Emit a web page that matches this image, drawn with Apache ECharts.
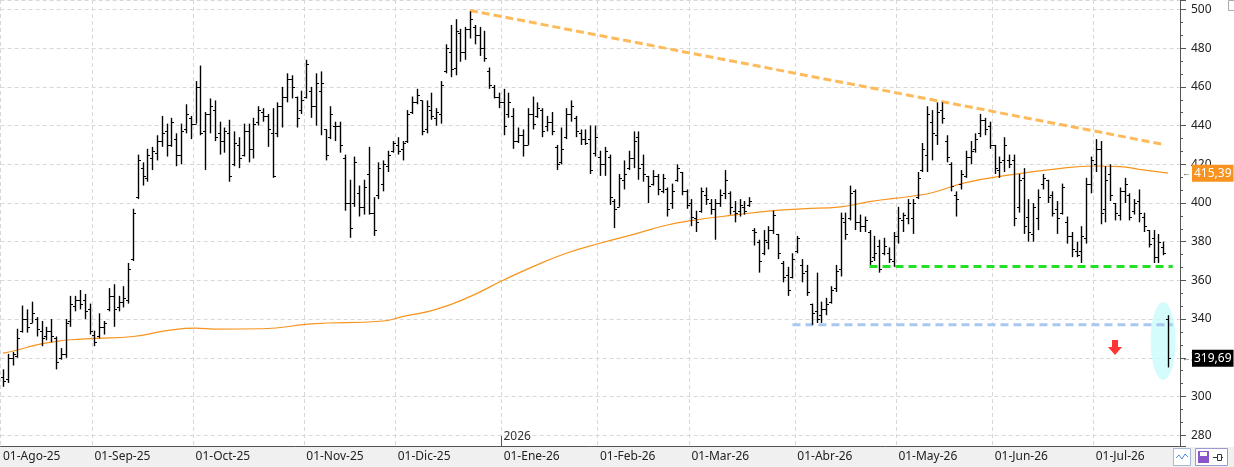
<!DOCTYPE html>
<html>
<head>
<meta charset="utf-8">
<script src="https://cdn.jsdelivr.net/npm/echarts@6/dist/echarts.min.js"></script>
<style>
html, body { margin: 0; padding: 0; background: #fff; }
#main { width: 1234px; height: 467px; }
</style>
</head>
<body>
<div id="main"></div>
<script>
// meses (etiquetas del eje X)
var monthNames = ['Ago-25', 'Sep-25', 'Oct-25', 'Nov-25', 'Dic-25', 'Ene-26',
                  'Feb-26', 'Mar-26', 'Abr-26', 'May-26', 'Jun-26', 'Jul-26'];

// barras diarias [apertura, cierre, minimo, maximo]
var aug25 = [
    [310,308,305,314],[309,320,307,322],[320,322,316,323],[321,330,320,335],[334,340,333,347],
    [340,336,333,345],[338,343,338,349],[340,335,331,341],[334,330,326,339],[331,334,329,336],
    [334,331,328,340],[330,318,314,331],[320,322,319,325],[322,338,320,340],[339,348,336,352],
    [347,350,344,352],[350,348,345,355],[350,344,340,353],[345,334,332,348]
];
var sep25 = [
    [332,328,326,334],[331,336,330,343],[336,338,332,339],[345,352,344,356],[352,345,336,358],
    [346,349,344,352],[349,351,346,357],[350,366,348,369],[371,395,370,397],[403,422,402,425],
    [418,414,409,421],[413,425,411,428],[423,427,417,429],[426,432,422,435],[432,436,429,445],
    [437,430,424,441],[430,442,429,444],[433,425,419,436],[425,437,420,441],[438,446,436,451],
    [444,441,433,445]
];
var oct25 = [
    [441,460,441,463],[460,436,435,471],[437,446,417,447],[446,450,436,454],[448,434,432,453],
    [436,432,425,442],[432,437,426,439],[436,414,411,443],[420,431,419,437],[430,423,418,434],
    [425,437,424,441],[437,428,421,441],[428,441,423,444],[442,448,440,450],[447,445,442,449],
    [445,438,429,446],[436,414,413,449],[436,450,434,452],[450,455,439,460],[455,464,452,467],
    [464,460,454,466],[455,444,439,455],[448,453,446,458]
];
var nov25 = [
    [455,472,454,474],[458,450,444,460],[450,462,440,467],[458,462,435,468],[438,425,422,438],
    [434,446,433,450],[440,440,432,442],[440,430,426,442],[423,400,396,425],[400,387,382,412],
    [400,421,398,424],[405,398,393,409],[398,408,394,412],[415,395,394,429],[395,386,383,403],
    [404,418,402,421],[410,420,406,422],[419,425,416,427],[427,431,426,432]
];
var dec25 = [
    [430,427,425,434],[428,431,422,432],[432,446,431,448],[447,452,446,455],[452,456,451,459],
    [453,437,435,453],[438,450,436,453],[448,445,443,457],[444,447,440,449],[446,461,441,463],
    [468,480,467,482],[478,469,465,492],[470,489,466,495],[488,478,473,490],[478,490,474,491],
    [490,495,485,499],[491,487,482,492],[487,480,476,491],[480,475,473,489],[468,461,459,470],
    [460,455,454,461],[455,452,449,457]
];
var jan26 = [
    [452,440,435,459],[446,452,444,457],[445,432,428,449],[432,435,431,439],[435,430,424,438],
    [430,446,430,449],[446,441,438,455],[445,449,444,452],[448,437,434,449],[440,442,437,445],
    [442,437,435,447],[429,420,417,430],[421,428,420,439],[434,446,433,449],[446,450,442,453],
    [444,437,434,445],[436,433,430,438],[433,431,430,438],[433,417,415,440],[426,434,424,440]
];
var feb26 = [
    [424,420,414,427],[420,427,414,429],[424,403,399,425],[401,397,387,402],[398,413,398,415],
    [412,415,407,422],[418,423,417,427],[423,432,418,437],[434,418,412,437],[420,415,411,425],
    [414,409,400,414],[410,414,409,417],[414,407,404,415],[406,413,405,415],[407,397,393,408],
    [400,406,397,410],[412,418,411,420],[416,406,404,416],[406,399,397,407]
];
var mar26 = [
    [400,393,388,402],[392,390,385,396],[396,406,395,408],[404,402,399,408],[400,397,394,402],
    [397,400,381,402],[400,404,398,407],[405,412,402,417],[405,398,394,406],[396,395,390,401],
    [396,399,393,402],[398,396,394,401],[399,401,398,403],[386,385,378,387],[380,370,364,381],
    [374,381,373,386],[380,386,376,388],[386,394,384,396],[384,374,371,384],[369,362,359,370],
    [363,355,352,367],[362,371,361,374]
];
var apr26 = [
    [375,382,374,383],[368,364,359,371],[365,354,352,368],[348,343,337,348],[344,340,338,364],
    [342,345,338,349],[345,348,342,351],[349,355,348,357],[356,365,354,368],[366,392,362,395],
    [390,384,381,395],[392,405,391,409],[406,390,386,407],[390,388,385,394],[388,391,385,393],
    [385,370,368,386],[372,374,370,383],[378,366,364,381],[374,378,373,382],[374,371,369,377],
    [370,383,367,385]
];
var may26 = [
    [383,392,379,398],[391,394,385,395],[392,400,389,402],[392,400,384,402],[403,413,402,416],
    [417,428,416,431],[425,446,416,450],[442,436,422,448],[435,447,430,452],[448,444,441,452],
    [432,424,421,435],[420,409,406,421],[404,402,393,406],[410,415,407,417],[414,424,413,427],
    [424,427,420,432],[428,433,426,436],[436,443,434,446],[443,438,435,444],[440,430,428,442]
];
var jun26 = [
    [430,418,415,430],[417,421,413,424],[422,430,416,434],[422,420,418,425],[422,392,388,425],
    [398,412,395,415],[413,388,384,418],[393,385,380,402],[384,398,380,400],[392,403,386,407],
    [410,413,407,415],[412,403,400,412],[404,395,393,406],[397,392,384,401],[395,408,394,410],
    [390,383,379,393],[383,376,372,385],[375,373,372,380],[375,383,369,388],[382,410,379,413],
    [410,422,405,424]
];
var jul26 = [
    [420,428,416,433],[428,395,389,432],[397,412,390,419],[415,404,401,420],[400,395,391,400],
    [394,406,391,408],[406,410,400,413],[404,393,391,405],[396,400,394,402],[401,395,390,407],
    [393,388,385,395],[386,379,377,386],[382,372,369,386],[372,380,369,384],[377,374,373,380],
    [340,319.69,315,342]
];

// media movil (indice de barra, valor)
var maIndex = [0, 3, 7, 11, 14, 19, 27, 34, 40, 44, 54, 64, 79, 83, 90, 97, 104, 110, 117,
               124, 131, 138, 143, 152, 160, 166, 174, 180, 189, 193, 200, 210, 218, 227, 232, 236, 242];
var maValue = [322.4, 324, 326.7, 328.4, 329.3, 330, 331, 334, 335.3, 334.8, 335, 337.5, 339, 341.3,
               345, 351.6, 360.2, 367, 374, 379.2, 383.8, 388.6, 390.9, 393.8, 396, 397, 398,
               400.7, 403.6, 405.3, 410.5, 414.8, 417.4, 419.1, 418.8, 417.4, 415.4];

// lineas dibujadas
var resistLine = [[97, 499.5], [241, 430.3]];
var greenSupport = [[180, 367.2], [243, 367.2]];
var blueSupport = [[164, 337], [243, 337]];
var highlight = [[241, 328.7]];
var downArrow = [[231, 325.3]];
var lastMa = 415.39;
var lastClose = 319.69;

var monthBars = [aug25, sep25, oct25, nov25, dec25, jan26, feb26, mar26, apr26, may26, jun26, jul26];
var categories = [];
var ohlc = [];
var janIdx = 0;
monthBars.forEach(function (bars, m) {
    bars.forEach(function (b, i) {
        if (m === 5 && i === 0) janIdx = ohlc.length;
        categories.push(monthNames[m] + '|' + i);
        ohlc.push([ohlc.length, b[0], b[1], b[2], b[3]]);
    });
});
// huecos a la derecha
categories.push('Jul-26|e1');
categories.push('Jul-26|e2');

var maData = maIndex.map(function (ix, i) { return [ix, maValue[i]]; });

function isMonthStart(index, value) {
    return String(value).split('|')[1] === '0';
}

var gridColor = '#d8d8d8';
var axisColor = '#555';

function priceLabel(text, bg) {
    return {
        show: true, position: 'end', distance: 2,
        formatter: '{a|\u2190}{b|' + text + '}',
        rich: {
            a: { color: '#666', fontSize: 9, padding: [0, 1, 0, 0] },
            b: { backgroundColor: bg, color: '#fff', fontSize: 12, padding: [3, 2, 2, 2] }
        }
    };
}

var chart = echarts.init(document.getElementById('main'));

var option = {
    animation: false,
    backgroundColor: '#fff',
    textStyle: { fontFamily: 'Noto Sans' },
    grid: { left: -1.4, right: 54, top: 0, bottom: 21 },
    xAxis: {
        type: 'category',
        data: categories,
        boundaryGap: true,
        axisLine: { lineStyle: { color: axisColor, width: 1 } },
        axisTick: { interval: isMonthStart, length: 8, lineStyle: { color: axisColor } },
        axisLabel: {
            interval: isMonthStart,
            align: 'left',
            margin: 5,
            color: '#222',
            fontSize: 12,
            formatter: function (v) { return '01-' + v.split('|')[0]; }
        },
        splitLine: { show: true, interval: isMonthStart, lineStyle: { color: gridColor, type: [4, 3] } }
    },
    yAxis: {
        type: 'value',
        position: 'right',
        min: 274.4,
        max: 504.9,
        splitNumber: 11,
        axisLine: { show: true, lineStyle: { color: axisColor } },
        axisTick: { show: true, length: 6, lineStyle: { color: axisColor } },
        minorTick: { show: true, splitNumber: 3, length: 3, lineStyle: { color: axisColor } },
        axisLabel: { showMinLabel: false, showMaxLabel: false, margin: 11, color: '#222', fontSize: 12 },
        splitLine: { lineStyle: { color: gridColor, type: [4, 3] } }
    },
    series: [
        {
            name: 'zona',
            type: 'scatter',
            data: highlight,
            symbol: 'circle',
            symbolSize: [25, 78],
            itemStyle: { color: '#c9fbfc' },
            z: 1,
            silent: true
        },
        {
            name: 'media',
            type: 'line',
            data: maData,
            smooth: 0.5,
            showSymbol: false,
            lineStyle: { color: '#f7941d', width: 1.2 },
            z: 2,
            markLine: {
                silent: true,
                symbol: 'none',
                lineStyle: { color: 'transparent', width: 0 },
                data: [
                    { yAxis: lastMa, label: priceLabel('415,39', '#f7931e') },
                    { yAxis: lastClose, label: priceLabel('319,69', '#000') }
                ]
            }
        },
        {
            name: 'resistencia',
            type: 'line',
            data: resistLine,
            showSymbol: false,
            lineStyle: { color: '#fdbb5c', width: 3, type: [8, 4] },
            z: 3
        },
        {
            name: 'soporte',
            type: 'line',
            data: greenSupport,
            showSymbol: false,
            lineStyle: { color: '#22e022', width: 3, type: [8, 5] },
            z: 3
        },
        {
            name: 'soporte2',
            type: 'line',
            data: blueSupport,
            showSymbol: false,
            lineStyle: { color: '#a8c8f0', width: 3, type: [8, 5] },
            z: 3
        },
        {
            name: 'precio',
            type: 'custom',
            data: ohlc,
            encode: { x: 0, y: [1, 2, 3, 4] },
            z: 5,
            renderItem: function (params, api) {
                var i = api.value(0);
                var o = api.coord([i, api.value(1)]);
                var c = api.coord([i, api.value(2)]);
                var l = api.coord([i, api.value(3)]);
                var h = api.coord([i, api.value(4)]);
                var x = Math.round(o[0]) + 0.5;
                var st = { stroke: '#000', lineWidth: 1.4 };
                var st2 = { stroke: '#000', lineWidth: 1 };
                var yo = Math.round(o[1]) + 0.5;
                var yc = Math.round(c[1]) + 0.5;
                return {
                    type: 'group',
                    children: [
                        { type: 'line', shape: { x1: x, y1: h[1], x2: x, y2: l[1] }, style: st },
                        { type: 'line', shape: { x1: x - 2.5, y1: yo, x2: x, y2: yo }, style: st2 },
                        { type: 'line', shape: { x1: x, y1: yc, x2: x + 2.5, y2: yc }, style: st2 }
                    ]
                };
            }
        },
        {
            name: 'flecha',
            type: 'scatter',
            data: downArrow,
            symbol: 'path://M4,0 L10,0 L10,7 L14,7 L7,15 L0,7 L4,7 Z',
            symbolSize: [14, 15],
            itemStyle: { color: '#ff0000' },
            z: 6
        }
    ]
};

chart.setOption(option);

// banda inferior, marca de año e iconos
var x0 = chart.convertToPixel({ xAxisIndex: 0 }, 0);
var x1 = chart.convertToPixel({ xAxisIndex: 0 }, 1);
var halfBand = (x1 - x0) / 2;
var janX = Math.round(chart.convertToPixel({ xAxisIndex: 0 }, janIdx) - halfBand) + 0.5;

chart.setOption({
    graphic: [
        { type: 'rect', z: -10, shape: { x: 0, y: 447, width: 1234, height: 20 }, style: { fill: '#f0f0f0' } },
        { type: 'line', shape: { x1: janX, y1: 436, x2: janX, y2: 446 }, style: { stroke: axisColor, lineWidth: 1 } },
        { type: 'text', x: janX + 2, y: 431, style: { text: '2026', fill: '#333', font: '12px "Noto Sans"' } },
        { type: 'rect', shape: { x: 1173.5, y: 448.5, width: 17, height: 17 }, style: { fill: '#fff', stroke: '#a8b8d8' } },
        { type: 'polyline', shape: { points: [[1176, 458], [1179, 455], [1182, 459], [1185, 454], [1188, 457]] }, style: { stroke: '#5b8bd8', fill: null, lineWidth: 1 } },
        { type: 'rect', shape: { x: 1195.5, y: 448.5, width: 32, height: 17 }, style: { fill: '#fff', stroke: '#9a9ad0' } },
        { type: 'rect', shape: { x: 1198, y: 451, width: 11, height: 12 }, style: { fill: '#8a55c8' } },
        { type: 'rect', shape: { x: 1200, y: 452, width: 7, height: 4 }, style: { fill: '#fff' } },
        { type: 'line', shape: { x1: 1213, y1: 457.5, x2: 1223, y2: 457.5 }, style: { stroke: '#333', lineWidth: 1 } },
        { type: 'rect', shape: { x: 1217.5, y: 454.5, width: 4, height: 6 }, style: { fill: '#fff', stroke: '#333' } },
        { type: 'rect', shape: { x: 1228.5, y: 0.5, width: 8, height: 10 }, style: { fill: '#fff', stroke: '#aaa' } }
    ]
});
</script>
</body>
</html>
